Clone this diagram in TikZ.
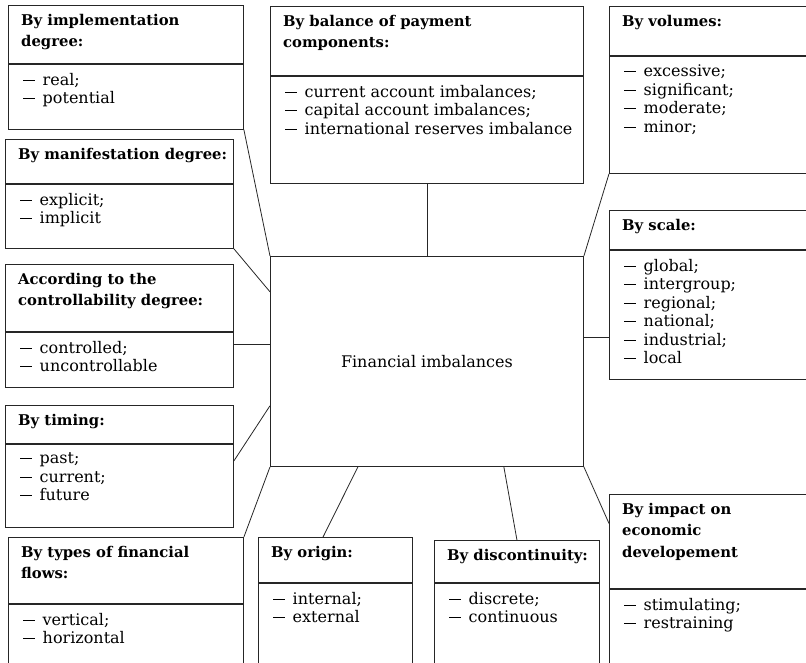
\documentclass[tikz,border=0pt]{standalone}
\usepackage{fontspec}
\setmainfont{DejaVu Serif}
\usetikzlibrary{calc}
\newcommand\dashitem{\rule[4.6pt]{11.5pt}{0.9pt}\hspace{8pt}}
\tikzset{
  frame/.style={draw=black!85, line width=0.9pt, inner sep=0pt, anchor=north west, font=\fontsize{16}{18.5}\selectfont},
  headtext/.style={anchor=north west, inner xsep=13pt, inner ysep=9pt, align=left, font=\fontsize{14.8}{21.5}\selectfont\bfseries},
  bodytext/.style={anchor=north west, inner xsep=15pt, inner ysep=9pt, align=left, font=\fontsize{16}{18.5}\selectfont},
  link/.style={draw=black!85, line width=0.8pt}
}
\begin{document}
\begin{tikzpicture}[x=1pt,y=-1pt]
\useasboundingbox (0,0) rectangle (806,663);
\clip (0,0) rectangle (806,663);
% centre
\node[frame, minimum width=313, minimum height=210] (centre) at (270,256) {Financial imbalances};
% left column
\node[frame, minimum width=235, minimum height=58] (implH) at (8,5) {};
\node[headtext] at (implH.north west) {By implementation\\degree:};
\node[frame, minimum width=235, minimum height=65] (implB) at (implH.south west) {};
\node[bodytext] at (implB.north west) {\dashitem real;\\\dashitem potential};
\node[frame, minimum width=228, minimum height=44] (manifH) at (5,139) {};
\node[headtext] at (manifH.north west) {By manifestation degree:};
\node[frame, minimum width=228, minimum height=64] (manifB) at (manifH.south west) {};
\node[bodytext] at (manifB.north west) {\dashitem explicit;\\\dashitem implicit};
\node[frame, minimum width=228, minimum height=67] (controlH) at (5,264) {};
\node[headtext] at (controlH.north west) {According to the\\controllability degree:};
\node[frame, minimum width=228, minimum height=55] (controlB) at (controlH.south west) {};
\node[bodytext] at (controlB.north west) {\dashitem controlled;\\\dashitem uncontrollable};
\node[frame, minimum width=228, minimum height=38] (timingH) at (5,405) {};
\node[headtext] at (timingH.north west) {By timing:};
\node[frame, minimum width=228, minimum height=83] (timingB) at (timingH.south west) {};
\node[bodytext] at (timingB.north west) {\dashitem past;\\\dashitem current;\\\dashitem future};
% bottom row
\node[frame, minimum width=235, minimum height=66] (flowsH) at (8,537) {};
\node[headtext] at (flowsH.north west) {By types of financial\\flows:};
\node[frame, minimum width=235, minimum height=80] (flowsB) at (flowsH.south west) {};
\node[bodytext] at (flowsB.north west) {\dashitem vertical;\\\dashitem horizontal};
\node[frame, minimum width=154, minimum height=45] (originH) at (258,537) {};
\node[headtext] at (originH.north west) {By origin:};
\node[frame, minimum width=154, minimum height=100] (originB) at (originH.south west) {};
\node[bodytext] at (originB.north west) {\dashitem internal;\\\dashitem external};
\node[frame, minimum width=165, minimum height=42] (discH) at (434,540) {};
\node[headtext] at (discH.north west) {By discontinuity:};
\node[frame, minimum width=165, minimum height=100] (discB) at (discH.south west) {};
\node[bodytext] at (discB.north west) {\dashitem discrete;\\\dashitem continuous};
\node[frame, minimum width=211, minimum height=94] (impactH) at (609,494) {};
\node[headtext] at (impactH.north west) {By impact on\\economic\\developement};
\node[frame, minimum width=211, minimum height=100] (impactB) at (impactH.south west) {};
\node[bodytext] at (impactB.north west) {\dashitem stimulating;\\\dashitem restraining};
% top and right
\node[frame, minimum width=313, minimum height=69] (balanceH) at (270,6) {};
\node[headtext] at (balanceH.north west) {By balance of payment\\components:};
\node[frame, minimum width=313, minimum height=107] (balanceB) at (balanceH.south west) {};
\node[bodytext] at (balanceB.north west) {\dashitem current account imbalances;\\\dashitem capital account imbalances;\\\dashitem international reserves imbalance};
\node[frame, minimum width=211, minimum height=49] (volumesH) at (609,6) {};
\node[headtext] at (volumesH.north west) {By volumes:};
\node[frame, minimum width=211, minimum height=117] (volumesB) at (volumesH.south west) {};
\node[bodytext] at (volumesB.north west) {\dashitem excessive;\\\dashitem significant;\\\dashitem moderate;\\\dashitem minor;};
\node[frame, minimum width=211, minimum height=39] (scaleH) at (609,210) {};
\node[headtext] at (scaleH.north west) {By scale:};
\node[frame, minimum width=211, minimum height=129] (scaleB) at (scaleH.south west) {};
\node[bodytext] at (scaleB.north west) {\dashitem global;\\\dashitem intergroup;\\\dashitem regional;\\\dashitem national;\\\dashitem industrial;\\\dashitem local};
% connectors
\draw[link] (implB.south east) -- (centre.north west);
\draw[link] (manifB.south east) -- ($(centre.north west)!0.17!(centre.south west)$);
\draw[link] ($(controlB.north east)+(0,12)$) coordinate (ctl) -- (ctl -| centre.west);
\draw[link] ($(timingB.north east)+(0,17)$) -- ($(centre.north west)!0.71!(centre.south west)$);
\draw[link] (flowsH.north east) -- (centre.south west);
\draw[link] ($(originH.north west)!0.42!(originH.north east)$) -- ($(centre.south west)!0.28!(centre.south east)$);
\draw[link] (discH.north) -- ($(centre.south west)!0.745!(centre.south east)$);
\draw[link] (centre.south east) -- ($(impactH.north west)!0.31!(impactH.south west)$);
\draw[link] (balanceB.south) -- (centre.north);
\draw[link] (volumesB.south west) -- (centre.north east);
\draw[link] ($(scaleB.north west)!0.67!(scaleB.south west)$) coordinate (sc) -- (sc -| centre.east);
\end{tikzpicture}
\end{document}
